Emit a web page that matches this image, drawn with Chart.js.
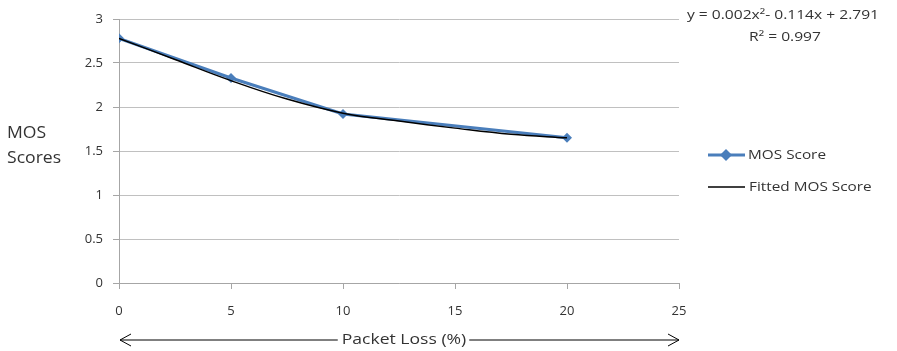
<!DOCTYPE html>
<html>
<head>
<meta charset="utf-8">
<script src="https://cdn.jsdelivr.net/npm/chart.js@4.4.0/dist/chart.umd.min.js"></script>
<style>
  html, body { margin: 0; padding: 0; background: #fff; }
  #wrap { width: 897px; height: 351px; position: relative; }
</style>
</head>
<body>
<div id="wrap"><canvas id="chart"></canvas></div>
<script>
// values
const packetLoss = [0, 5, 10, 20];
const mosScore = [2.78, 2.33, 1.92, 1.65];

// fitted curve, sampled off the drawn trendline
const fitX = [0, 2.5, 5, 7.5, 10, 12.5, 15, 17.5, 20];
const fitY = [2.78, 2.54, 2.30, 2.09, 1.93, 1.84, 1.76, 1.69, 1.65];

const xTicks = [0, 5, 10, 15, 20, 25];
const yTicks = [0, 0.5, 1, 1.5, 2, 2.5, 3];

const fontName = "'Open Sans', 'Liberation Sans', sans-serif";
const textColor = '#333';
const blue = '#4a7ebb';

// text in the original is a bit wider than Open Sans, so stretch it
function wideText(ctx, text, x, y, align, sx) {
  ctx.save();
  ctx.translate(x, y);
  ctx.scale(sx, 1);
  ctx.textAlign = align;
  ctx.fillText(text, 0, 0);
  ctx.restore();
}

// extra text + legend + arrows drawn on the canvas
const decor = {
  id: 'decor',
  afterDraw(chart) {
    const ctx = chart.ctx;
    const area = chart.chartArea;
    ctx.save();
    ctx.fillStyle = textColor;
    ctx.textBaseline = 'middle';

    // y title
    ctx.font = '16px ' + fontName;
    wideText(ctx, 'MOS', 7, 133, 'left', 1.1);
    wideText(ctx, 'Scores', 7, 158, 'left', 1.1);

    // trendline equation
    ctx.font = '13px ' + fontName;
    wideText(ctx, 'y = 0.002x\u00b2- 0.114x + 2.791', 783, 15, 'center', 1.2);
    wideText(ctx, 'R\u00b2 = 0.997', 785, 37, 'center', 1.2);

    // legend
    ctx.strokeStyle = blue;
    ctx.lineWidth = 3;
    ctx.beginPath();
    ctx.moveTo(708, 155);
    ctx.lineTo(745, 155);
    ctx.stroke();
    ctx.fillStyle = blue;
    ctx.beginPath();
    ctx.moveTo(726, 149);
    ctx.lineTo(732, 155);
    ctx.lineTo(726, 161);
    ctx.lineTo(720, 155);
    ctx.closePath();
    ctx.fill();
    ctx.strokeStyle = '#000';
    ctx.lineWidth = 1.5;
    ctx.beginPath();
    ctx.moveTo(708, 187);
    ctx.lineTo(745, 187);
    ctx.stroke();
    ctx.fillStyle = textColor;
    ctx.font = '13px ' + fontName;
    wideText(ctx, 'MOS Score', 748, 155, 'left', 1.18);
    wideText(ctx, 'Fitted MOS Score', 749, 187, 'left', 1.18);

    // x title with arrows
    const yA = 340;
    ctx.font = '15px ' + fontName;
    const label = 'Packet Loss (%)';
    const cx = 404;
    wideText(ctx, label, cx, yA, 'center', 1.17);
    const half = ctx.measureText(label).width * 1.17 / 2;
    ctx.strokeStyle = '#000';
    ctx.lineWidth = 1;
    ctx.beginPath();
    ctx.moveTo(area.left + 1, yA);
    ctx.lineTo(cx - half - 4, yA);
    ctx.moveTo(cx + half + 3, yA);
    ctx.lineTo(area.right, yA);
    // arrow heads
    ctx.moveTo(area.left + 12, yA - 6);
    ctx.lineTo(area.left + 1, yA);
    ctx.lineTo(area.left + 12, yA + 6);
    ctx.moveTo(area.right - 11, yA - 6);
    ctx.lineTo(area.right, yA);
    ctx.lineTo(area.right - 11, yA + 6);
    ctx.stroke();
    ctx.restore();
  }
};

new Chart(document.getElementById('chart'), {
  type: 'line',
  data: {
    datasets: [
      {
        label: 'MOS Score',
        data: packetLoss.map((x, i) => ({ x: x, y: mosScore[i] })),
        borderColor: blue,
        backgroundColor: blue,
        borderWidth: 3,
        pointStyle: 'rectRot',
        pointRadius: 5,
        pointBorderWidth: 0,
        tension: 0,
        order: 2
      },
      {
        label: 'Fitted MOS Score',
        data: fitX.map((x, i) => ({ x: x, y: fitY[i] })),
        borderColor: '#000',
        borderWidth: 1.5,
        pointRadius: 0,
        tension: 0.4,
        order: 1
      }
    ]
  },
  options: {
    responsive: true,
    maintainAspectRatio: false,
    animation: false,
    layout: { padding: { left: 0, right: 218, top: 19, bottom: 0 } },
    plugins: {
      legend: { display: false },
      tooltip: { enabled: false }
    },
    scales: {
      x: {
        type: 'linear',
        min: 0,
        max: 25,
        afterBuildTicks: s => { s.ticks = xTicks.map(v => ({ value: v })); },
        afterFit: s => { s.height = 68; },
        grid: { drawOnChartArea: false, drawTicks: true, tickLength: 6, color: '#a6a6a6' },
        border: { color: '#a6a6a6' },
        ticks: { color: textColor, font: { family: fontName, size: 13 }, padding: 14, maxRotation: 0 }
      },
      y: {
        min: 0,
        max: 3,
        afterBuildTicks: s => { s.ticks = yTicks.map(v => ({ value: v })); },
        afterFit: s => { s.width = 119; },
        grid: { color: '#c0c0c0', tickLength: 6, tickColor: '#a6a6a6' },
        border: { color: '#a6a6a6' },
        ticks: {
          color: textColor,
          font: { family: fontName, size: 13 },
          padding: 10,
          callback: v => String(v)
        }
      }
    }
  },
  plugins: [decor]
});
</script>
</body>
</html>
